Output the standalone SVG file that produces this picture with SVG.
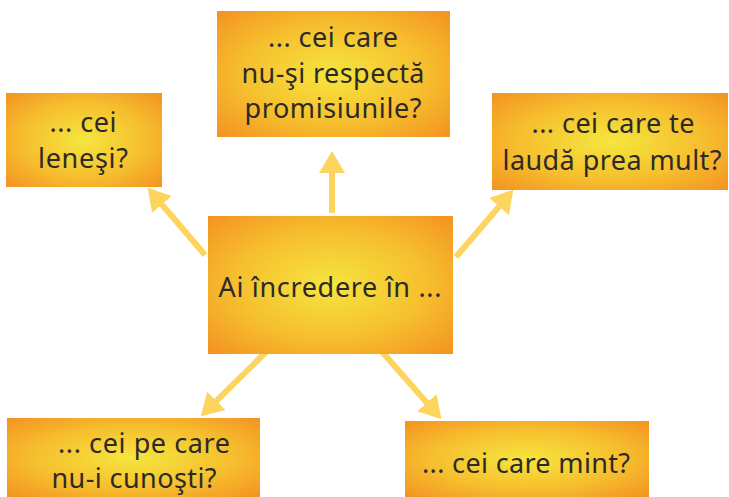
<svg xmlns="http://www.w3.org/2000/svg" width="729" height="497" viewBox="0 0 729 497">
<style>
.box{fill:url(#g)}
.t{font-family:"Noto Sans","Open Sans","DejaVu Sans",sans-serif;font-size:27px;fill:#2d2a26;text-anchor:middle}
.c{stroke:#FDD45E;stroke-width:6;fill:none;marker-end:url(#ah)}
</style>
<defs>
<radialGradient id="g" cx="0.5" cy="0.5" r="0.72">
<stop offset="0" stop-color="#F5E63E"/>
<stop offset="0.55" stop-color="#F6BE2E"/>
<stop offset="1" stop-color="#F39021"/>
</radialGradient>
<marker id="ah" viewBox="0 0 22 26" markerUnits="userSpaceOnUse" markerWidth="22" markerHeight="26" refX="1" refY="13" orient="auto">
<path d="M0,0 L22,13 L0,26 Z" fill="#FDD45E"/>
</marker>
</defs>
<g id="connectors">
<line class="c" x1="332" y1="213" x2="332" y2="172"/>
<line class="c" x1="205" y1="255" x2="161.3" y2="203.7"/>
<line class="c" x1="456" y1="257" x2="499.7" y2="205.7"/>
<line class="c" x1="267" y1="351" x2="215.7" y2="401.6"/>
<line class="c" x1="377" y1="346" x2="427.5" y2="403.5"/>
</g>
<g id="center">
<rect class="box" x="208" y="216" width="245" height="138"/>
<text class="t" x="330" y="297" textLength="223">Ai încredere în ...</text>
</g>
<g id="lenesi">
<rect class="box" x="6" y="93" width="156" height="94"/>
<text class="t" x="83" y="132" textLength="67">... cei</text>
<text class="t" x="83" y="168" textLength="90">leneşi?</text>
</g>
<g id="promisiunile">
<rect class="box" x="217" y="11" width="233" height="126"/>
<text class="t" x="333" y="47" textLength="130">... cei care</text>
<text class="t" x="333" y="83" textLength="183">nu-şi respectă</text>
<text class="t" x="333" y="118" textLength="177">promisiunile?</text>
</g>
<g id="lauda">
<rect class="box" x="492" y="93" width="236" height="97"/>
<text class="t" x="613" y="133" textLength="163">... cei care te</text>
<text class="t" x="612" y="170" textLength="219">laudă prea mult?</text>
</g>
<g id="necunoscuti">
<rect class="box" x="7" y="418" width="253" height="79"/>
<text class="t" x="144" y="453" textLength="172">... cei pe care</text>
<text class="t" x="134" y="488" textLength="165">nu-i cunoşti?</text>
</g>
<g id="mint">
<rect class="box" x="405" y="421" width="244" height="76"/>
<text class="t" x="526" y="473" textLength="208">... cei care mint?</text>
</g>
</svg>
